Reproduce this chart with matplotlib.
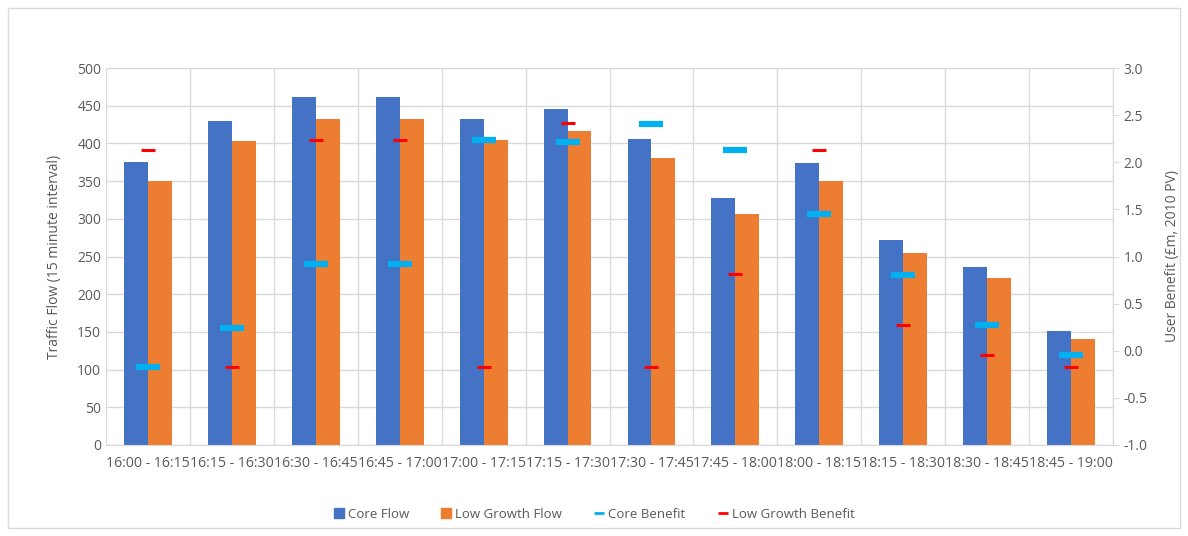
import numpy as np
import matplotlib
matplotlib.use("Agg")
import matplotlib.pyplot as plt
from matplotlib.lines import Line2D
from matplotlib.patches import Rectangle

# ---------------------------
# data
# ---------------------------
intervals = ["16:00 - 16:15", "16:15 - 16:30", "16:30 - 16:45", "16:45 - 17:00",
             "17:00 - 17:15", "17:15 - 17:30", "17:30 - 17:45", "17:45 - 18:00",
             "18:00 - 18:15", "18:15 - 18:30", "18:30 - 18:45", "18:45 - 19:00"]
core_flow = [375, 430, 462, 462, 432, 446, 406, 328, 374, 272, 236, 151]
low_flow = [350, 403, 433, 433, 404, 417, 381, 307, 350, 255, 222, 141]
core_benefit = [-0.17, 0.245, 0.92, 0.92, 2.24, 2.21, 2.41, 2.13, 1.45, 0.80, 0.27, -0.05]
low_benefit = [2.13, -0.17, 2.24, 2.24, -0.17, 2.42, -0.17, 0.81, 2.13, 0.277, -0.04, -0.17]

BLUE = "#4472C4"
ORANGE = "#ED7D31"
CYAN = "#00B0F0"
RED = "#FF0000"
TXT = "#595959"
GRID = "#D9D9D9"

plt.rcParams["font.family"] = ["Open Sans", "DejaVu Sans"]
plt.rcParams["font.size"] = 9.5

W, H = 1188, 536
fig = plt.figure(figsize=(W / 100, H / 100), dpi=100)
fig.patches.append(Rectangle((8 / W, 8 / H), 1172 / W, 520 / H, transform=fig.transFigure,
                             fill=False, edgecolor="#D9D9D9", linewidth=1))

ax = fig.add_axes([106 / W, 1 - 445 / H, (1113 - 106) / W, (445 - 68) / H])
x = np.arange(len(intervals))
bw = 0.285
ax.bar(x - bw / 2, core_flow, bw, color=BLUE, zorder=2)
ax.bar(x + bw / 2, low_flow, bw, color=ORANGE, zorder=2)

ax.set_xlim(-0.5, len(intervals) - 0.5)
ax.set_ylim(0, 500)
ax.set_yticks(np.arange(0, 501, 50))
ax.set_xticks(x)
ax.set_xticklabels(intervals, fontsize=10.2)
ax.set_xticks(np.arange(-0.5, len(intervals), 1), minor=True)
ax.tick_params(axis="both", which="both", length=0, colors=TXT)
ax.tick_params(axis="y", labelsize=10)
ax.tick_params(axis="x", pad=8)
ax.grid(axis="y", color=GRID, linewidth=1, zorder=0)
ax.grid(axis="x", which="minor", color=GRID, linewidth=1, zorder=0)
for s in ["top", "right", "left"]:
    ax.spines[s].set_visible(False)
ax.spines["bottom"].set_color(GRID)
ax.set_ylabel("Traffic Flow (15 minute interval)", color=TXT, fontsize=10, labelpad=11)

ax2 = ax.twinx()
ax2.plot(x, core_benefit, ls="none", marker="_", ms=17, mew=4.5, color=CYAN, zorder=3)
ax2.plot(x, low_benefit, ls="none", marker="_", ms=10, mew=2.2, color=RED, zorder=4)
ax2.set_ylim(-1.0, 3.0)
ax2.set_yticks(np.arange(-1.0, 3.01, 0.5))
ax2.set_yticklabels([f"{v:.1f}" for v in np.arange(-1.0, 3.01, 0.5)])
ax2.tick_params(axis="y", length=4, color=GRID, labelcolor=TXT, labelsize=10)
for s in ["top", "left", "bottom"]:
    ax2.spines[s].set_visible(False)
ax2.spines["right"].set_color(GRID)
ax2.set_ylabel("User Benefit (£m, 2010 PV)", color=TXT, fontsize=10, labelpad=13)

handles = [
    Line2D([], [], ls="none", marker="s", ms=7, color=BLUE),
    Line2D([], [], ls="none", marker="s", ms=7, color=ORANGE),
    Line2D([], [], ls="none", marker="_", ms=7, mew=2, color=CYAN),
    Line2D([], [], ls="none", marker="_", ms=7, mew=2, color=RED),
]
labels = ["Core Flow", "Low Growth Flow", "Core Benefit", "Low Growth Benefit"]
fig.legend(handles, labels, loc="center", bbox_to_anchor=(0.5, 1 - 514 / H), ncol=4,
           frameon=False, handlelength=0.8, handletextpad=0.3, columnspacing=2.4,
           labelcolor=TXT, fontsize=9.5)

fig.savefig("out.png", dpi=100)
